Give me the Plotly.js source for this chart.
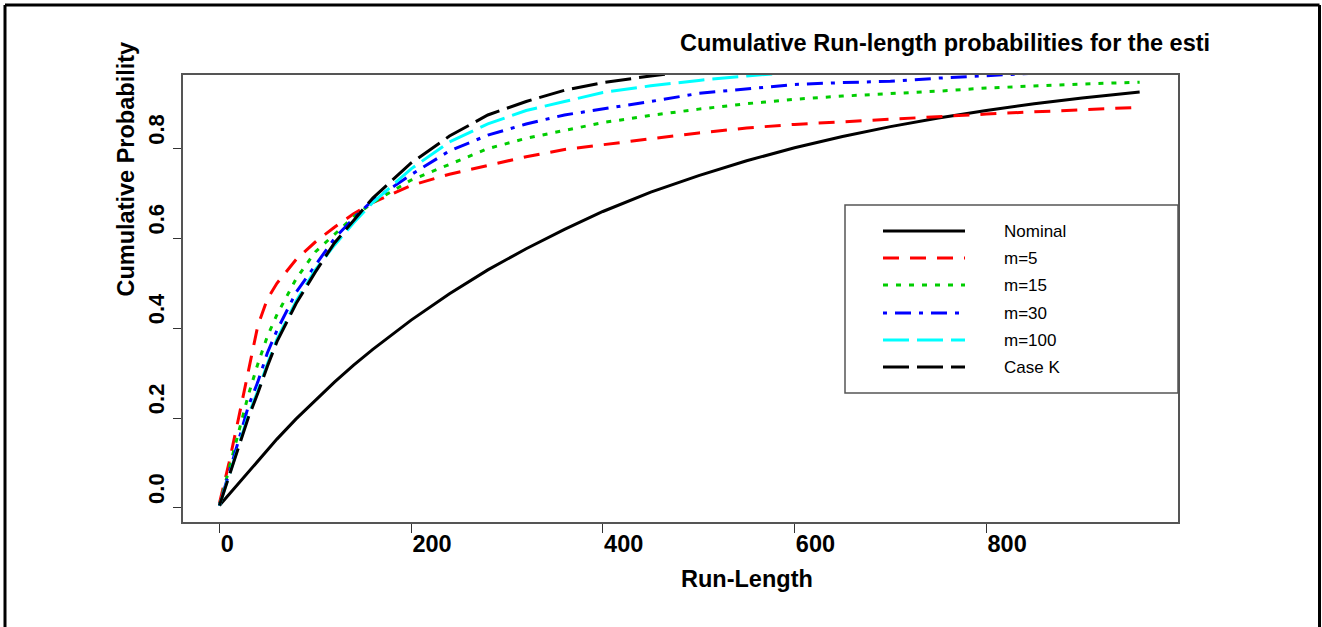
<!DOCTYPE html>
<html>
<head>
<meta charset="utf-8">
<script src="https://cdn.plot.ly/plotly-3.0.1.min.js"></script>
<style>
html,body{margin:0;padding:0;background:#ffffff;}
#chart{width:1322px;height:627px;}
</style>
</head>
<body>
<div id="chart"></div>
<script>
// Run-length grid (x values)
const runLength = [0,10,20,30,40,50,60,80,100,120,140,160,200,240,280,320,360,400,450,500,550,600,650,700,750,800,850,900,960];

// Cumulative probabilities
const nominal = [0.005,0.030,0.055,0.080,0.105,0.130,0.153,0.198,0.240,0.280,0.318,0.353,0.418,0.477,0.530,0.577,0.620,0.660,0.703,0.740,0.773,0.802,0.827,0.849,0.868,0.885,0.900,0.913,0.926];
const m5      = [0.010,0.100,0.200,0.300,0.405,0.465,0.500,0.553,0.592,0.625,0.655,0.680,0.718,0.743,0.763,0.782,0.798,0.808,0.822,0.835,0.846,0.854,0.860,0.866,0.872,0.877,0.882,0.887,0.892];
const m15     = [0.005,0.085,0.165,0.250,0.320,0.382,0.430,0.510,0.570,0.610,0.648,0.680,0.730,0.765,0.800,0.823,0.840,0.858,0.874,0.888,0.900,0.910,0.917,0.922,0.928,0.935,0.940,0.944,0.948];
const m30     = [0.005,0.075,0.150,0.225,0.280,0.345,0.395,0.480,0.540,0.600,0.645,0.685,0.742,0.795,0.830,0.855,0.875,0.888,0.905,0.923,0.933,0.943,0.947,0.950,0.957,0.963,0.968,0.972,0.976];
const m100    = [0.005,0.070,0.140,0.205,0.260,0.320,0.375,0.460,0.530,0.585,0.635,0.680,0.755,0.815,0.855,0.885,0.905,0.925,0.940,0.952,0.962,0.970,0.975,0.980,0.984,0.986,0.988,0.989,0.990];
const caseK   = [0.005,0.070,0.140,0.200,0.255,0.315,0.370,0.455,0.525,0.590,0.640,0.690,0.768,0.828,0.875,0.905,0.930,0.947,0.962,0.975,0.983,0.988,0.991,0.994,0.996,0.997,0.998,0.999,0.999];

const seriesNames = ["Nominal","m=5","m=15","m=30","m=100","Case K"];
const seriesData = [nominal, m5, m15, m30, m100, caseK];
const seriesColors = ["#000000","#FF0000","#00CD00","#0000FF","#00FFFF","#000000"];
const seriesDash = ["solid","16px,11px","5px,8px","4px,8px,16px,8px","26px,8px","26px,8px"];

const FONT = "Liberation Sans, Arial, Helvetica, sans-serif";
const BOLD = {family: FONT, size: 23.5, weight: "bold", color: "#000000"};

const traces = seriesNames.map((name, i) => ({
  type: "scatter",
  mode: "lines",
  name: name,
  x: runLength,
  y: seriesData[i],
  line: {color: seriesColors[i], width: 3, dash: seriesDash[i]},
  hoverinfo: "x+y+name"
}));

// paper-coordinate helpers (plot area: x 183..1178 px, y 75..522 px)
const px = v => (v - 183) / 995;
const py = v => (522 - v) / 447;

// legend drawn as a boxed key: sample lines + labels
const legendRowY = [231, 258, 285, 313, 340, 367];
const legendShapes = seriesNames.map((name, i) => ({
  type: "line", xref: "paper", yref: "paper",
  x0: px(883), x1: px(965), y0: py(legendRowY[i]), y1: py(legendRowY[i]),
  line: {color: seriesColors[i], width: 3, dash: seriesDash[i]}, layer: "above"
}));
const legendLabels = seriesNames.map((name, i) => ({
  text: name, showarrow: false, xref: "paper", yref: "paper",
  x: px(1002), y: py(legendRowY[i]), xanchor: "left", yanchor: "middle",
  font: {family: FONT, size: 17, color: "#000000"}
}));

const layout = {
  width: 1322,
  height: 627,
  margin: {l: 183, r: 144, t: 75, b: 105, pad: 0},
  paper_bgcolor: "#ffffff",
  plot_bgcolor: "#ffffff",
  font: {family: FONT, color: "#000000"},
  showlegend: false,
  title: {
    text: "Cumulative Run-length probabilities for the esti",
    font: BOLD,
    xref: "container", x: 680 / 1322, xanchor: "left",
    yref: "container", y: 1 - 43 / 627, yanchor: "middle"
  },
  xaxis: {
    range: [-38, 1000],
    tickvals: [0, 200, 400, 600, 800],
    ticktext: ["0", "200", "400", "600", "800"],
    ticks: "outside", ticklen: 9, tickwidth: 1, tickcolor: "#333333",
    ticklabelposition: "outside right",
    tickfont: BOLD,
    showline: true, mirror: true, linecolor: "#555555", linewidth: 1.5,
    showgrid: false, zeroline: false
  },
  yaxis: {
    range: [-0.0316, 0.964],
    tickvals: [0, 0.2, 0.4, 0.6, 0.8],
    ticktext: ["0.0", "0.2", "0.4", "0.6", "0.8"],
    ticks: "outside", ticklen: 8, tickwidth: 1, tickcolor: "#333333",
    tickangle: -90,
    ticklabelposition: "outside top",
    ticklabelstandoff: 8,
    tickfont: {family: FONT, size: 22, weight: "bold", color: "#000000"},
    showline: true, mirror: true, linecolor: "#555555", linewidth: 1.5,
    showgrid: false, zeroline: false
  },
  annotations: [
    {text: "Cumulative Probability", textangle: -90, showarrow: false,
     xref: "paper", yref: "paper", x: px(125), y: py(169.5), xanchor: "center", yanchor: "middle",
     font: BOLD},
    {text: "Run-Length", showarrow: false,
     xref: "paper", yref: "paper", x: px(747), y: py(579), xanchor: "center", yanchor: "middle",
     font: BOLD}
  ].concat(legendLabels),
  shapes: [
    // legend box
    {type: "rect", xref: "paper", yref: "paper", x0: px(845), x1: px(1178), y0: py(393), y1: py(205),
     line: {color: "#555555", width: 1.5}, fillcolor: "#ffffff", layer: "above"},
    // outer frame
    {type: "line", xref: "paper", yref: "paper", x0: px(5), x1: px(1319.5), y0: py(5), y1: py(5),
     line: {color: "#000000", width: 3}},
    {type: "line", xref: "paper", yref: "paper", x0: px(5), x1: px(5), y0: py(5), y1: py(660),
     line: {color: "#000000", width: 3}},
    {type: "line", xref: "paper", yref: "paper", x0: px(1319.5), x1: px(1319.5), y0: py(5), y1: py(660),
     line: {color: "#000000", width: 3}}
  ].concat(legendShapes)
};

Plotly.newPlot("chart", traces, layout, {displayModeBar: false, responsive: false});
</script>
</body>
</html>
